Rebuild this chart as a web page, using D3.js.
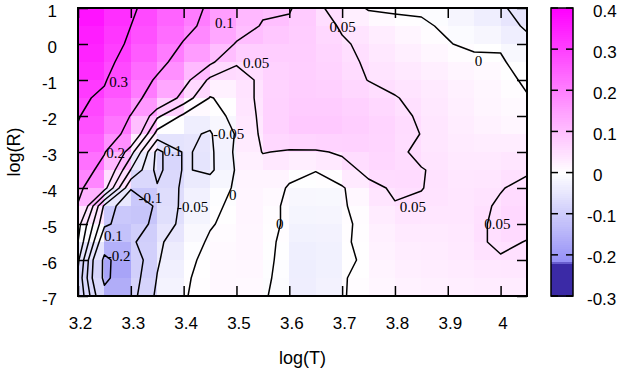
<!DOCTYPE html>
<html>
<head>
<meta charset="utf-8">
<script src="https://cdn.jsdelivr.net/npm/d3@7"></script>
<style>
  body { margin: 0; background: #fff; }
  svg { display: block; }
  .tick text { font-family: "Liberation Sans", Arial, sans-serif; font-size: 17px; fill: #000; }
  .clab { font-family: "Liberation Serif", "Times New Roman", serif; font-size: 15px; fill: #000; }
</style>
</head>
<body>
<div id="chart"></div>
<script>
// grid of log(T) columns and log(R) rows (top row is log(R) = 1)
const logT = [3.2, 3.25, 3.3, 3.35, 3.4, 3.45, 3.5, 3.55, 3.6, 3.65, 3.7, 3.75, 3.8, 3.85, 3.9, 3.95, 4.0, 4.05];
const logR = [1, 0.5, 0, -0.5, -1, -1.5, -2, -2.5, -3, -3.5, -4, -4.5, -5, -5.5, -6, -6.5, -7];

// value at each grid point, one row per log(R)
const values = [
  [0.40, 0.36, 0.31, 0.27, 0.23, 0.19, 0.11, 0.11, 0.105, 0.06, 0.03, -0.005, -0.01, -0.005, -0.02, -0.03, -0.045, -0.065],
  [0.38, 0.34, 0.30, 0.26, 0.22, 0.18, 0.13, 0.095, 0.09, 0.07, 0.045, 0.03, 0.02, 0.005, -0.005, -0.02, -0.035, -0.055],
  [0.37, 0.33, 0.29, 0.245, 0.195, 0.15, 0.095, 0.085, 0.08, 0.075, 0.055, 0.04, 0.025, 0.015, 0.002, -0.008, -0.004, -0.04],
  [0.36, 0.32, 0.27, 0.225, 0.165, 0.11, 0.055, 0.07, 0.075, 0.075, 0.06, 0.045, 0.035, 0.025, 0.015, 0.01, 0.004, -0.015],
  [0.34, 0.305, 0.25, 0.19, 0.12, 0.04, 0.03, 0.06, 0.075, 0.075, 0.065, 0.049, 0.04, 0.035, 0.025, 0.015, 0.01, -0.005],
  [0.31, 0.29, 0.23, 0.16, 0.08, -0.003, 0.02, 0.065, 0.075, 0.08, 0.075, 0.065, 0.052, 0.04, 0.03, 0.02, 0.01, 0.002],
  [0.305, 0.25, 0.198, 0.06, -0.01, -0.03, 0.02, 0.06, 0.08, 0.085, 0.08, 0.07, 0.06, 0.045, 0.03, 0.02, 0.015, 0.008],
  [0.29, 0.25, 0.17, -0.02, -0.04, -0.055, 0.005, 0.06, 0.085, 0.09, 0.085, 0.075, 0.065, 0.049, 0.035, 0.025, 0.02, 0.015],
  [0.27, 0.205, 0.07, -0.115, -0.045, -0.06, 0.01, 0.052, 0.045, 0.045, 0.055, 0.065, 0.06, 0.04, 0.035, 0.03, 0.035, 0.04],
  [0.25, 0.17, -0.002, -0.115, -0.045, -0.06, 0.005, 0.03, 0.015, 0.002, 0.035, 0.06, 0.065, 0.052, 0.04, 0.035, 0.04, 0.045],
  [0.22, 0.12, -0.095, -0.095, -0.04, -0.02, 0.005, 0.03, -0.005, -0.02, -0.005, 0.04, 0.055, 0.051, 0.04, 0.035, 0.048, 0.06],
  [0.195, -0.06, -0.15, -0.09, -0.04, -0.01, 0.01, 0.02, -0.01, -0.025, -0.005, 0.02, 0.048, 0.045, 0.04, 0.04, 0.055, 0.065],
  [0.12, -0.09, -0.13, -0.085, -0.035, -0.003, 0.012, 0.02, -0.01, -0.035, -0.01, 0.015, 0.035, 0.035, 0.035, 0.04, 0.06, 0.065],
  [0.10, -0.15, -0.11, -0.06, -0.02, 0.005, 0.012, 0.015, -0.015, -0.045, -0.008, 0.015, 0.03, 0.03, 0.03, 0.04, 0.06, 0.048],
  [0.06, -0.22, -0.14, -0.055, -0.01, 0.01, 0.012, 0.015, -0.02, -0.048, -0.012, 0.01, 0.025, 0.03, 0.03, 0.035, 0.045, 0.04],
  [0.04, -0.22, -0.13, -0.048, -0.004, 0.01, 0.012, 0.01, -0.02, -0.048, -0.003, 0.012, 0.02, 0.025, 0.03, 0.03, 0.035, 0.03],
  [0.05, -0.17, -0.12, -0.04, -0.002, 0.01, 0.012, 0.005, -0.02, -0.045, -0.002, 0.01, 0.015, 0.02, 0.02, 0.025, 0.03, 0.025]
];

const levels = [-0.2, -0.1, -0.05, 0, 0.05, 0.1, 0.2, 0.3];

const xTicks = [3.2, 3.3, 3.4, 3.5, 3.6, 3.7, 3.8, 3.9, 4];
const yTicks = [-7, -6, -5, -4, -3, -2, -1, 0, 1];
const cbTicks = [-0.3, -0.2, -0.1, 0, 0.1, 0.2, 0.3, 0.4];

// palette stops
const palStops = [-0.3, -0.218, -0.217, 0, 0.4];
const palColors = ["#3b2aa6", "#3b2aa6", "#9590f6", "#ffffff", "#ff00ff"];

// contour labels
const labText = ["0.3", "0.2", "0.1", "0.05", "0.05", "0", "-0.05", "0.1", "-0.1", "-0.05", "0", "0", "0.1", "-0.2", "0.05", "0.05"];
const labT = [3.277, 3.271, 3.477, 3.537, 3.701, 3.958, 3.485, 3.379, 3.337, 3.417, 3.493, 3.582, 3.267, 3.277, 3.834, 3.994];
const labR = [-1.06, -3.03, 0.58, -0.53, 0.47, -0.47, -2.5, -2.97, -4.28, -4.53, -4.19, -5.0, -5.33, -5.89, -4.53, -5.0];

const w = 623, h = 369;
const pL = 78, pR = 527, pT = 8, pB = 296;

const x = d3.scaleLinear().domain([3.2, 4.05]).range([pL, pR]);
const y = d3.scaleLinear().domain([-7, 1]).range([pB, pT]);
const color = d3.scaleLinear().domain(palStops).range(palColors).clamp(true);
const fmt = d => String(d);

const svg = d3.select("#chart").append("svg")
  .attr("width", w)
  .attr("height", h);

svg.append("rect").attr("width", w).attr("height", h).attr("fill", "#fff");

// pm3d style cells, colour = mean of four corners
const cells = [];
for (let j = 0; j < logR.length - 1; j++) {
  for (let i = 0; i < logT.length - 1; i++) {
    cells.push({
      i: i, j: j,
      v: (values[j][i] + values[j][i + 1] + values[j + 1][i] + values[j + 1][i + 1]) / 4
    });
  }
}

svg.append("g")
  .selectAll("rect")
  .data(cells)
  .enter()
  .append("rect")
  .attr("x", d => x(logT[d.i]))
  .attr("y", d => y(logR[d.j]))
  .attr("width", d => x(logT[d.i + 1]) - x(logT[d.i]) + 0.5)
  .attr("height", d => y(logR[d.j + 1]) - y(logR[d.j]) + 0.5)
  .attr("fill", d => color(d.v))
  .attr("shape-rendering", "crispEdges");

// contour lines
svg.append("clipPath").attr("id", "plotclip")
  .append("rect")
  .attr("x", pL).attr("y", pT)
  .attr("width", pR - pL).attr("height", pB - pT);

const nx = logT.length, ny = logR.length;
const flat = [];
values.forEach(row => row.forEach(v => flat.push(v)));

const contours = d3.contours().size([nx, ny]).thresholds(levels)(flat);

const stepT = logT[1] - logT[0], stepR = logR[0] - logR[1];
const proj = d3.geoTransform({
  point: function(px, py) {
    this.stream.point(x(logT[0] + (px - 0.5) * stepT), y(logR[0] - (py - 0.5) * stepR));
  }
});
const path = d3.geoPath(proj);

svg.append("g")
  .attr("clip-path", "url(#plotclip)")
  .selectAll("path")
  .data(contours)
  .enter()
  .append("path")
  .attr("d", path)
  .attr("fill", "none")
  .attr("stroke", "#000")
  .attr("stroke-width", 1.5)
  .attr("stroke-linejoin", "round");

svg.append("g")
  .selectAll("text")
  .data(labText)
  .enter()
  .append("text")
  .attr("class", "clab")
  .attr("x", (d, i) => x(labT[i]))
  .attr("y", (d, i) => y(labR[i]))
  .attr("dy", "0.35em")
  .attr("text-anchor", "middle")
  .text(d => d);

// axes, ticks pointing inwards on all sides
const xAxis = d3.axisBottom(x).tickValues(xTicks).tickSize(-10).tickSizeOuter(0).tickPadding(21).tickFormat(fmt);
const yAxis = d3.axisLeft(y).tickValues(yTicks).tickSize(-10).tickSizeOuter(0).tickPadding(21).tickFormat(fmt);

const gx = svg.append("g")
  .attr("transform", "translate(0," + pB + ")")
  .call(xAxis);
gx.selectAll("text").attr("dx", 2);

const gy = svg.append("g")
  .attr("transform", "translate(" + pL + ",0)")
  .call(yAxis);
gy.selectAll("text").attr("dy", "0.5em");

svg.append("g")
  .attr("transform", "translate(0," + pT + ")")
  .call(d3.axisTop(x).tickValues(xTicks).tickSize(-10).tickSizeOuter(0).tickFormat(""));
svg.append("g")
  .attr("transform", "translate(" + pR + ",0)")
  .call(d3.axisRight(y).tickValues(yTicks).tickSize(-10).tickSizeOuter(0).tickFormat(""));

svg.selectAll(".domain").remove();
svg.selectAll(".tick line").attr("stroke", "#000").attr("stroke-width", 1.5);

svg.append("rect")
  .attr("x", pL).attr("y", pT)
  .attr("width", pR - pL).attr("height", pB - pT)
  .attr("fill", "none")
  .attr("stroke", "#000")
  .attr("stroke-width", 2);

svg.append("text")
  .attr("x", (pL + pR) / 2)
  .attr("y", 364)
  .attr("text-anchor", "middle")
  .style("font-family", "Liberation Sans, Arial, sans-serif")
  .style("font-size", "18px")
  .text("log(T)");

svg.append("text")
  .attr("transform", "translate(20," + ((pT + pB) / 2) + ") rotate(-90)")
  .attr("text-anchor", "middle")
  .style("font-family", "Liberation Sans, Arial, sans-serif")
  .style("font-size", "18px")
  .text("log(R)");

// colour box
const cbLeft = 551, cbRight = 573;
const cbY = d3.scaleLinear().domain([-0.3, 0.4]).range([pB, pT]);
const slices = d3.range(0, 140).map(k => -0.3 + k * 0.005);

svg.append("g")
  .selectAll("rect")
  .data(slices)
  .enter()
  .append("rect")
  .attr("x", cbLeft)
  .attr("y", d => cbY(d + 0.005))
  .attr("width", cbRight - cbLeft)
  .attr("height", d => cbY(d) - cbY(d + 0.005) + 0.5)
  .attr("fill", d => color(d + 0.0025))
  .attr("shape-rendering", "crispEdges");

const cbTickG = svg.append("g")
  .selectAll("g")
  .data(cbTicks)
  .enter()
  .append("g");

cbTickG.append("line")
  .attr("x1", cbLeft).attr("x2", cbLeft + 7)
  .attr("y1", d => cbY(d)).attr("y2", d => cbY(d))
  .attr("stroke", "#000").attr("stroke-width", 1.5);
cbTickG.append("line")
  .attr("x1", cbRight - 7).attr("x2", cbRight)
  .attr("y1", d => cbY(d)).attr("y2", d => cbY(d))
  .attr("stroke", "#000").attr("stroke-width", 1.5);
cbTickG.append("text")
  .attr("x", d => d < 0 ? cbRight + 14 : cbRight + 20)
  .attr("y", d => cbY(d))
  .attr("dy", "0.5em")
  .style("font-family", "Liberation Sans, Arial, sans-serif")
  .style("font-size", "17px")
  .text(fmt);

svg.append("rect")
  .attr("x", cbLeft).attr("y", pT)
  .attr("width", cbRight - cbLeft).attr("height", pB - pT)
  .attr("fill", "none")
  .attr("stroke", "#000")
  .attr("stroke-width", 1.5);
</script>
</body>
</html>
